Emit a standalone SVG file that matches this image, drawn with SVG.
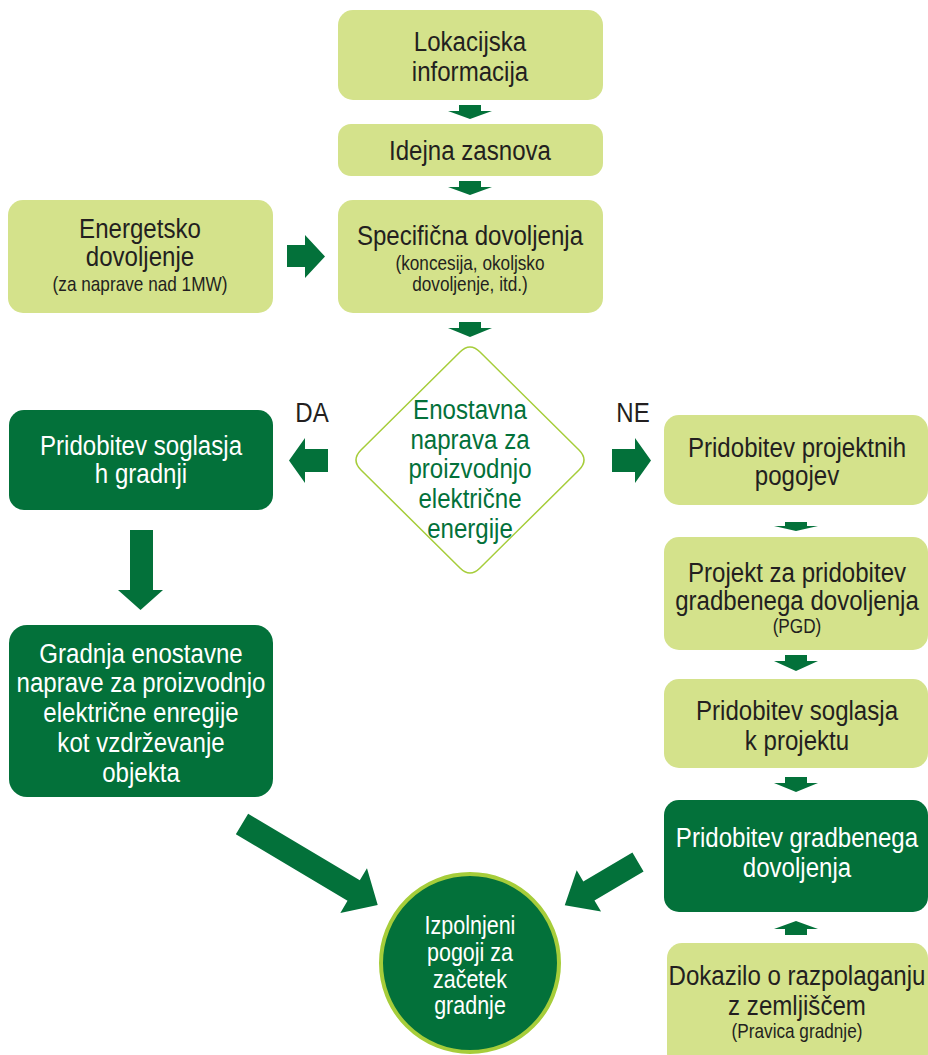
<svg xmlns="http://www.w3.org/2000/svg" width="928" height="1055" viewBox="0 0 928 1055">
<style>
.lt{fill:#d4e28b}
.dk{fill:#03713a}
.ar{fill:#03713a}
text{font-family:"Liberation Sans",Arial,sans-serif;text-anchor:middle}
.t{font-size:28px;fill:#231f20}
.w{font-size:28px;fill:#ffffff}
.s{font-size:20px;fill:#231f20}
.g{font-size:28px;fill:#03713a}
.c{font-size:25px;fill:#ffffff}
</style>
<rect width="928" height="1055" fill="#ffffff"/>
<g id="connectors">
<polygon class="ar" points="459,105 481,105 481,111 492,111 470,119 448,111 459,111"/>
<polygon class="ar" points="459,181 481,181 481,187 492,187 470,195 448,187 459,187"/>
<polygon class="ar" points="459,322 481,322 481,328 492,328 470,337 448,328 459,328"/>
<polygon class="ar" points="287,245 305,245 305,235 325,256.5 305,278 305,267 287,267"/>
<polygon class="ar" points="328,449 305,449 305,438 289,460.5 305,483 305,472 328,472"/>
<polygon class="ar" points="612,449 635,449 635,438 651,460.5 635,483 635,472 612,472"/>
<polygon class="ar" points="130,530 153,530 153,590 163,590 140.5,610 118,590 130,590"/>
<polygon class="ar" points="0,-12 130,-12 130,-26 158,0 130,26 130,12 0,12" transform="translate(242,824) rotate(30.8)"/>
<polygon class="ar" points="0,-11 57,-11 57,-24 85,0 57,24 57,11 0,11" transform="translate(638,862) rotate(149.5)"/>
<polygon class="ar" points="785,522 807,522 807,526 818,526 796,531 774,526 785,526"/>
<polygon class="ar" points="785,655 807,655 807,661 818,661 796,671 774,661 785,661"/>
<polygon class="ar" points="785,777 807,777 807,783 818,783 796,792 774,783 785,783"/>
<polygon class="ar" points="796,921 818,929 807,929 807,935 785,935 785,929 774,929"/>
</g>
<g id="lokacijska">
<rect class="lt" x="338" y="10" width="265" height="90" rx="15"/>
<g transform="matrix(0.86,0,0,1,470,0)">
<text class="t" x="0" y="51">Lokacijska</text>
<text class="t" x="0" y="81">informacija</text>
</g>
</g>
<g id="idejna">
<rect class="lt" x="338" y="124" width="265" height="52" rx="13"/>
<g transform="matrix(0.86,0,0,1,470,0)">
<text class="t" x="0" y="160">Idejna zasnova</text>
</g>
</g>
<g id="specificna">
<rect class="lt" x="338" y="200" width="265" height="113" rx="15"/>
<g transform="matrix(0.86,0,0,1,470,0)">
<text class="t" x="0" y="245">Specifična dovoljenja</text>
<text class="s" x="0" y="270">(koncesija, okoljsko</text>
<text class="s" x="0" y="291">dovoljenje, itd.)</text>
</g>
</g>
<g id="energetsko">
<rect class="lt" x="8" y="200" width="265" height="113" rx="15"/>
<g transform="matrix(0.86,0,0,1,140,0)">
<text class="t" x="0" y="238">Energetsko</text>
<text class="t" x="0" y="266">dovoljenje</text>
<text class="s" x="0" y="291">(za naprave nad 1MW)</text>
</g>
</g>
<g id="odlocitev">
<path d="M460,352 L361,450 Q351,460 361,470 L460,568 Q470,578 480,568 L579,470 Q589,460 579,450 L480,352 Q470,342 460,352 Z" fill="#ffffff" stroke="#a6cd3a" stroke-width="1.5"/>
<g transform="matrix(0.86,0,0,1,470,0)">
<text class="g" x="0" y="419">Enostavna</text>
<text class="g" x="0" y="449">naprava za</text>
<text class="g" x="0" y="478">proizvodnjo</text>
<text class="g" x="0" y="508">električne</text>
<text class="g" x="0" y="538">energije</text>
</g>
</g>
<g id="label-da">
<text class="t" x="0" y="422" transform="matrix(0.86,0,0,1,312,0)">DA</text>
</g>
<g id="label-ne">
<text class="t" x="0" y="422" transform="matrix(0.86,0,0,1,633,0)">NE</text>
</g>
<g id="soglasje-gradnji">
<rect class="dk" x="9" y="410" width="264" height="100" rx="15"/>
<g transform="matrix(0.86,0,0,1,141,0)">
<text class="w" x="0" y="455">Pridobitev soglasja</text>
<text class="w" x="0" y="483">h gradnji</text>
</g>
</g>
<g id="gradnja">
<rect class="dk" x="9" y="625" width="264" height="172" rx="18"/>
<g transform="matrix(0.86,0,0,1,141,0)">
<text class="w" x="0" y="663">Gradnja enostavne</text>
<text class="w" x="0" y="692">naprave za proizvodnjo</text>
<text class="w" x="0" y="722">električne enregije</text>
<text class="w" x="0" y="752">kot vzdrževanje</text>
<text class="w" x="0" y="782">objekta</text>
</g>
</g>
<g id="projektni-pogoji">
<rect class="lt" x="664" y="415" width="264" height="90" rx="15"/>
<g transform="matrix(0.86,0,0,1,797,0)">
<text class="t" x="0" y="457">Pridobitev projektnih</text>
<text class="t" x="0" y="485">pogojev</text>
</g>
</g>
<g id="pgd">
<rect class="lt" x="664" y="537" width="264" height="113" rx="15"/>
<g transform="matrix(0.86,0,0,1,797,0)">
<text class="t" x="0" y="582">Projekt za pridobitev</text>
<text class="t" x="0" y="610">gradbenega dovoljenja</text>
<text class="s" x="0" y="633">(PGD)</text>
</g>
</g>
<g id="soglasje-projektu">
<rect class="lt" x="664" y="679" width="264" height="89" rx="15"/>
<g transform="matrix(0.86,0,0,1,797,0)">
<text class="t" x="0" y="720">Pridobitev soglasja</text>
<text class="t" x="0" y="750">k projektu</text>
</g>
</g>
<g id="gradbeno-dovoljenje">
<rect class="dk" x="664" y="800" width="264" height="112" rx="15"/>
<g transform="matrix(0.86,0,0,1,797,0)">
<text class="w" x="0" y="847">Pridobitev gradbenega</text>
<text class="w" x="0" y="877">dovoljenja</text>
</g>
</g>
<g id="dokazilo">
<rect class="lt" x="667" y="943" width="261" height="125" rx="15"/>
<g transform="matrix(0.86,0,0,1,797,0)">
<text class="t" x="0" y="985">Dokazilo o razpolaganju</text>
<text class="t" x="0" y="1015">z zemljiščem</text>
<text class="s" x="0" y="1038">(Pravica gradnje)</text>
</g>
</g>
<g id="zacetek">
<circle cx="470" cy="963" r="89" fill="#03713a" stroke="#a6cd3a" stroke-width="4"/>
<g transform="matrix(0.86,0,0,1,470,0)">
<text class="c" x="0" y="934">Izpolnjeni</text>
<text class="c" x="0" y="961">pogoji za</text>
<text class="c" x="0" y="988">začetek</text>
<text class="c" x="0" y="1014">gradnje</text>
</g>
</g>
</svg>
